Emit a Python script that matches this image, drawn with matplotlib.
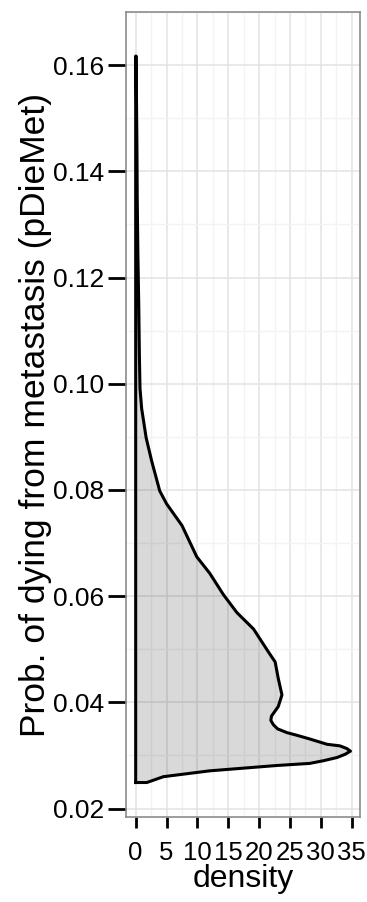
import matplotlib
matplotlib.use("Agg")
import matplotlib.pyplot as plt
import numpy as np

# density estimate of pDieMet (value on y, density on x)
p_die_met = [0.0249, 0.0260, 0.0271, 0.0281, 0.0285, 0.0290, 0.0296, 0.0302,
             0.0308, 0.0313, 0.0318, 0.0321, 0.0331, 0.0338, 0.0343, 0.0350,
             0.0358, 0.0366, 0.0374, 0.0392, 0.0414, 0.0445, 0.0476, 0.0495,
             0.0538, 0.0569, 0.0603, 0.0643, 0.0674, 0.0733, 0.0774, 0.0798,
             0.0854, 0.0898, 0.0953, 0.0991, 0.1053, 0.1146, 0.1250, 0.1350,
             0.1450, 0.1550, 0.1617]
density = [1.8, 4.5, 12.0, 22.8, 28.2, 30.4, 32.6, 33.9,
           34.8, 34.2, 33.1, 31.0, 28.2, 26.1, 24.5, 23.0,
           22.3, 21.9, 22.0, 23.1, 23.7, 23.1, 22.6, 21.5,
           19.1, 16.4, 14.2, 12.0, 9.9, 7.5, 5.0, 3.9,
           2.6, 1.7, 0.97, 0.7, 0.6, 0.5, 0.35, 0.25,
           0.2, 0.12, 0.08]

x_ticks = [0, 5, 10, 15, 20, 25, 30, 35]
y_ticks = [0.02, 0.04, 0.06, 0.08, 0.10, 0.12, 0.14, 0.16]

plt.rcParams['font.family'] = ['Liberation Sans', 'DejaVu Sans']

fig = plt.figure(figsize=(3.67, 9.02), dpi=100)
ax = fig.add_axes([0.3433, 0.0942, 0.6377, 0.8925])

# closed outline: baseline at zero, then the density curve
xs = np.concatenate([[0.0], density, [0.0]])
ys = np.concatenate([[p_die_met[0]], p_die_met, [p_die_met[-1]]])
ax.fill(xs, ys, facecolor='black', alpha=0.15, edgecolor='none', zorder=2)
ax.plot(np.append(xs, xs[0]), np.append(ys, ys[0]), color='black',
        lw=2.2, solid_joinstyle='round', zorder=3)

ax.set_xlim(-1.57, 36.35)
ax.set_ylim(0.0184, 0.1681)
ax.set_xticks(x_ticks)
ax.set_xticklabels([str(t) for t in x_ticks])
ax.set_yticks(y_ticks)
ax.set_yticklabels(['%.2f' % t for t in y_ticks])
ax.set_xticks(np.arange(2.5, 36, 5), minor=True)
ax.set_yticks(np.arange(0.03, 0.17, 0.02), minor=True)

ax.grid(which='major', color='#E3E3E3', lw=1.1, zorder=0)
ax.grid(which='minor', color='#F3F3F3', lw=1.0, zorder=0)
ax.set_axisbelow(True)

for s in ax.spines.values():
    s.set_color('#8C8C8C')
    s.set_linewidth(1.2)

ax.tick_params(axis='y', which='major', length=13, width=2, pad=3,
               labelsize=19, color='black', labelcolor='black')
ax.tick_params(axis='x', which='major', length=8, width=2, pad=9,
               labelsize=18.5, color='black', labelcolor='black')
ax.tick_params(which='minor', length=0)

ax.set_xlabel('density', fontsize=23)
ax.set_ylabel('Prob. of dying from metastasis (pDieMet)', fontsize=25.5)
ax.xaxis.set_label_coords(0.5, -0.058)
ax.yaxis.set_label_coords(-0.316, 0.5)

fig.savefig('out.png', dpi=100)
